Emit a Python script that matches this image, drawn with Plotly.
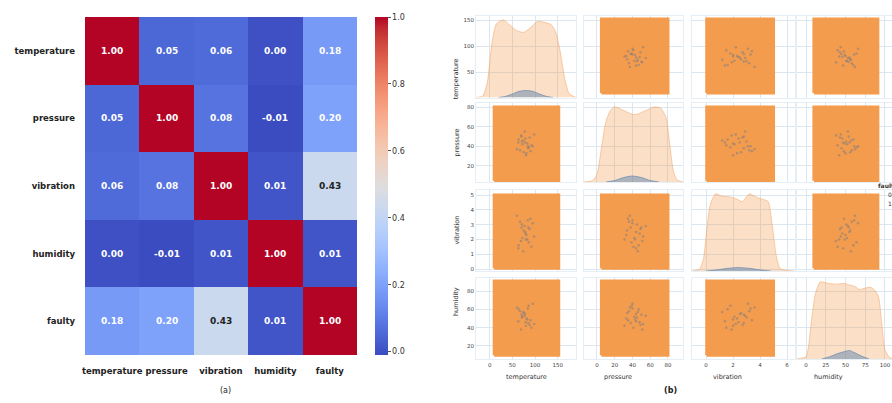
import plotly.graph_objects as go

W, H = 892, 403

# ---------------- data ----------------
features = ["temperature", "pressure", "vibration", "humidity", "faulty"]
corr = [
    [1.00, 0.05, 0.06, 0.00, 0.18],
    [0.05, 1.00, 0.08, -0.01, 0.20],
    [0.06, 0.08, 1.00, 0.01, 0.43],
    [0.00, -0.01, 0.01, 1.00, 0.01],
    [0.18, 0.20, 0.43, 0.01, 1.00],
]
cbar_ticks = [0.0, 0.2, 0.4, 0.6, 0.8, 1.0]

pair_vars = ["temperature", "pressure", "vibration", "humidity"]

# value range covered by the (dense) non-faulty samples, per variable
ok_min = [10, 5, 0.05, 10]
ok_max = [152, 80, 5.0, 91]

# faulty samples (read approx. from the cluster in the middle of each panel)
fault_temperature = [72, 85, 64, 90, 78, 69, 95, 81, 74, 88, 60, 83, 77, 92, 67, 79, 86, 71, 98, 75, 63, 84, 80, 70]
fault_pressure = [42, 38, 47, 35, 44, 51, 40, 33, 46, 49, 37, 43, 55, 41, 36, 48, 39, 45, 52, 34, 44, 40, 31, 50]
fault_vibration = [2.1, 2.8, 1.6, 3.4, 2.5, 1.9, 3.1, 2.3, 1.2, 2.7, 3.6, 2.0, 2.9, 1.5, 3.2, 2.4, 1.8, 3.0, 2.2, 2.6, 1.4, 3.3, 2.0, 2.8]
fault_humidity = [52, 45, 60, 48, 55, 38, 66, 50, 57, 43, 62, 49, 53, 40, 58, 46, 64, 51, 44, 56, 47, 61, 42, 54]
fault_samples = [fault_temperature, fault_pressure, fault_vibration, fault_humidity]

# KDE curves (relative density) for faulty = 0
kde_temperature_x = [-30, -15, -5, 5, 15, 30, 45, 60, 75, 90, 105, 120, 135, 145, 155, 165, 175, 190]
kde_temperature_ok = [0, 0.02, 0.2, 0.7, 0.95, 1.0, 0.93, 0.86, 0.84, 0.9, 0.98, 0.97, 0.94, 0.85, 0.6, 0.25, 0.05, 0]
kde_pressure_x = [-15, -5, 0, 5, 10, 15, 20, 30, 40, 45, 55, 65, 72, 78, 82, 86, 90, 97]
kde_pressure_ok = [0, 0.02, 0.1, 0.45, 0.8, 0.95, 1.0, 0.95, 0.9, 0.9, 0.95, 1.0, 0.98, 0.85, 0.5, 0.15, 0.03, 0]
kde_vibration_x = [-1, -0.5, -0.2, 0, 0.3, 0.7, 1.2, 1.8, 2.3, 2.7, 3.2, 3.7, 4.2, 4.6, 4.9, 5.2, 5.5, 6.5]
kde_vibration_ok = [0, 0.02, 0.15, 0.45, 0.85, 1.0, 0.97, 0.96, 0.93, 0.9, 1.0, 0.96, 0.93, 0.9, 0.6, 0.2, 0.03, 0]
kde_humidity_x = [-12, 0, 3, 7, 12, 18, 28, 38, 48, 55, 62, 68, 75, 82, 88, 92, 96, 100, 106, 112]
kde_humidity_ok = [0, 0.03, 0.15, 0.5, 0.85, 1.0, 0.98, 0.97, 0.98, 0.96, 0.94, 0.9, 0.92, 0.93, 0.88, 0.8, 0.45, 0.12, 0.02, 0]

# KDE curves (relative density) for faulty = 1
kde_temperature_fx = [20, 35, 50, 65, 80, 95, 110, 125, 140]
kde_temperature_f = [0.0, 0.015, 0.045, 0.08, 0.09, 0.08, 0.045, 0.015, 0.0]
kde_pressure_fx = [10, 20, 30, 40, 50, 60, 70]
kde_pressure_f = [0.0, 0.02, 0.06, 0.08, 0.06, 0.02, 0.0]
kde_vibration_fx = [0.0, 0.8, 1.6, 2.4, 3.2, 4.0, 4.8]
kde_vibration_f = [0.0, 0.015, 0.035, 0.045, 0.035, 0.015, 0.0]
kde_humidity_fx = [20, 30, 40, 50, 55, 60, 70, 80]
kde_humidity_f = [0.0, 0.03, 0.07, 0.1, 0.11, 0.09, 0.04, 0.0]

kde_x = [kde_temperature_x, kde_pressure_x, kde_vibration_x, kde_humidity_x]
kde_ok = [kde_temperature_ok, kde_pressure_ok, kde_vibration_ok, kde_humidity_ok]
kde_fx = [kde_temperature_fx, kde_pressure_fx, kde_vibration_fx, kde_humidity_fx]
kde_f = [kde_temperature_f, kde_pressure_f, kde_vibration_f, kde_humidity_f]

x_ticks = [[0, 50, 100, 150], [0, 20, 40, 60, 80], [0, 2, 4, 6], [0, 25, 50, 75, 100]]
y_ticks = [[50, 100, 150], [20, 40, 60, 80], [0, 1, 2, 3, 4, 5], [20, 40, 60, 80]]

# ---------------- layout helpers ----------------
def fx(px):
    return px / W

def fy(px):
    return 1 - px / H

lower = [
    "rgb(59,76,192)", "rgb(68,90,204)", "rgb(77,104,215)", "rgb(87,117,225)",
    "rgb(98,130,234)", "rgb(108,142,241)", "rgb(119,154,247)", "rgb(130,165,251)",
    "rgb(141,176,254)", "rgb(152,185,255)", "rgb(163,194,255)", "rgb(174,201,253)",
    "rgb(184,208,249)", "rgb(194,213,244)", "rgb(204,217,238)", "rgb(213,219,230)",
    "rgb(221,221,221)",
]
upper = [
    "rgb(221,221,221)", "rgb(229,216,209)", "rgb(236,211,197)", "rgb(241,204,184)",
    "rgb(245,196,173)", "rgb(247,187,160)", "rgb(247,177,148)", "rgb(247,166,135)",
    "rgb(244,154,123)", "rgb(241,141,111)", "rgb(236,127,99)", "rgb(229,112,88)",
    "rgb(222,96,77)", "rgb(213,80,66)", "rgb(203,62,56)", "rgb(192,40,47)", "rgb(180,4,38)",
]
cscale = [[k * 0.5 / 16, c] for k, c in enumerate(lower)] + \
         [[0.5 + k * 0.5 / 16, c] for k, c in enumerate(upper)][1:]

BOLD = dict(family="DejaVu Sans", weight="bold")

fig = go.Figure()

# ---------------- heatmap ----------------
hm_x0, hm_x1, hm_y0, hm_y1 = 85, 357, 17, 355
fig.add_trace(go.Heatmap(
    z=corr, x=features, y=features, zmin=-0.01, zmax=1.0, colorscale=cscale,
    hoverinfo="skip", xaxis="x", yaxis="y",
    colorbar=dict(
        x=fx(375), xanchor="left", xpad=0, y=fy((hm_y0 + hm_y1) / 2), yanchor="middle", ypad=0,
        len=(hm_y1 - hm_y0) / H, lenmode="fraction", thickness=13, outlinewidth=0,
        tickvals=cbar_ticks, ticktext=[f"{v:.1f}" for v in cbar_ticks],
        ticks="outside", ticklen=3, tickcolor="#555",
        tickfont=dict(size=8, color="#333", family="DejaVu Sans"),
    ),
))

annotations = []
for i, row in enumerate(corr):
    for j, v in enumerate(row):
        col = "#222222" if 0.3 < v < 0.7 else "white"
        annotations.append(dict(x=features[j], y=features[i], xref="x", yref="y", text=f"{v:.2f}",
                                showarrow=False, font=dict(size=9, color=col, **BOLD)))

lay = dict(
    width=W, height=H, margin=dict(l=0, r=0, t=0, b=0),
    paper_bgcolor="white", plot_bgcolor="white", showlegend=False,
    xaxis=dict(domain=[fx(hm_x0), fx(hm_x1)], anchor="y", showgrid=False, zeroline=False,
               tickfont=dict(size=8.5, color="#222", **BOLD), ticks="",
               ticklabelstandoff=9, automargin=False, tickangle=0),
    yaxis=dict(domain=[fy(hm_y1), fy(hm_y0)], anchor="x", showgrid=False, zeroline=False,
               autorange="reversed", tickfont=dict(size=8.5, color="#222", **BOLD), ticks="",
               ticklabelstandoff=9, automargin=False),
)

# ---------------- pair plot ----------------
col_px = [(476, 576), (584, 683), (692, 795), (797, 892)]
row_px = [(16, 97.5), (103, 182), (190, 271), (278, 359)]
x_ranges = [[-30, 190], [-14.6, 96.9], [-1.04, 6.59], [-11.4, 108.9]]
y_ranges = [[1.5, 157.7], [3.7, 84.1], [-0.135, 5.34], [5.8, 94.2]]

GRID = "#dbe6ef"
TICKF = dict(size=5.5, color="#444", family="DejaVu Sans")
ORANGE = "#f49c4e"

for i in range(4):
    for j in range(4):
        n = 2 + i * 4 + j
        xa, ya = f"x{n}", f"y{n}"
        lay[f"xaxis{n}"] = dict(domain=[fx(col_px[j][0]), fx(col_px[j][1])], anchor=ya,
                                range=x_ranges[j], tickvals=x_ticks[j], showgrid=True, gridcolor=GRID,
                                gridwidth=0.8, zeroline=False, showticklabels=(i == 3), ticks="",
                                tickfont=TICKF, automargin=False, showline=True, mirror=True,
                                linecolor="#e6eef5", linewidth=0.8)
        lay[f"yaxis{n}"] = dict(domain=[fy(row_px[i][1]), fy(row_px[i][0])], anchor=xa,
                                range=y_ranges[i], tickvals=y_ticks[i], showgrid=True, gridcolor=GRID,
                                gridwidth=0.8, zeroline=False, showticklabels=(j == 0), ticks="",
                                tickfont=TICKF, automargin=False, showline=True, mirror=True,
                                linecolor="#e6eef5", linewidth=0.8)
        if i == j:
            k = 18 + i
            # empty trace so the shared-scale axes of the diagonal panel are drawn
            fig.add_trace(go.Scatter(x=[], y=[], xaxis=xa, yaxis=ya, mode="markers", hoverinfo="skip"))
            lay[f"yaxis{k}"] = dict(domain=[fy(row_px[i][1]), fy(row_px[i][0])], anchor=xa,
                                    overlaying=ya, range=[0, 1.05], visible=False, showgrid=False)
            fig.add_trace(go.Scatter(x=kde_x[i], y=kde_ok[i], xaxis=xa, yaxis=f"y{k}", mode="lines",
                                     fill="tozeroy", fillcolor="rgba(247,155,80,0.32)",
                                     line=dict(color="rgba(242,150,75,0.55)", width=0.8,
                                               shape="spline", smoothing=0.6),
                                     hoverinfo="skip"))
            fig.add_trace(go.Scatter(x=kde_fx[i], y=kde_f[i], xaxis=xa, yaxis=f"y{k}", mode="lines",
                                     fill="tozeroy", fillcolor="rgba(80,125,170,0.45)",
                                     line=dict(color="rgba(80,125,170,0.7)", width=0.8,
                                               shape="spline", smoothing=0.6),
                                     hoverinfo="skip"))
        else:
            rx = [ok_min[j], ok_max[j], ok_max[j], ok_min[j], ok_min[j]]
            ry = [ok_min[i], ok_min[i], ok_max[i], ok_max[i], ok_min[i]]
            fig.add_trace(go.Scatter(x=rx, y=ry, xaxis=xa, yaxis=ya, mode="lines", fill="toself",
                                     fillcolor=ORANGE, line=dict(color=ORANGE, width=3),
                                     hoverinfo="skip"))
            fig.add_trace(go.Scatter(x=fault_samples[j], y=fault_samples[i], xaxis=xa, yaxis=ya,
                                     mode="markers",
                                     marker=dict(size=2.5, color="rgba(130,125,125,0.55)"),
                                     hoverinfo="skip"))

# axis titles of pair plot
for j in range(4):
    annotations.append(dict(x=fx((col_px[j][0] + col_px[j][1]) / 2), y=fy(371), xref="paper", yref="paper",
                            yanchor="top", text=pair_vars[j], showarrow=False,
                            font=dict(size=6.5, color="#333", family="DejaVu Sans")))
for i in range(4):
    annotations.append(dict(x=fx(456), y=fy((row_px[i][0] + row_px[i][1]) / 2), xref="paper", yref="paper",
                            text=pair_vars[i], textangle=-90, showarrow=False,
                            font=dict(size=6.5, color="#333", family="DejaVu Sans")))

# partly visible legend at the right edge
annotations.append(dict(x=fx(876), y=fy(186), xref="paper", yref="paper", xanchor="left", text="faulty",
                        showarrow=False, font=dict(size=6, color="#333", **BOLD)))
annotations.append(dict(x=fx(886), y=fy(194), xref="paper", yref="paper", xanchor="left", text="0",
                        showarrow=False, font=dict(size=6, color="#333", family="DejaVu Sans")))
annotations.append(dict(x=fx(886), y=fy(203), xref="paper", yref="paper", xanchor="left", text="1",
                        showarrow=False, font=dict(size=6, color="#333", family="DejaVu Sans")))

# panel captions
annotations.append(dict(x=fx(218), y=fy(397), xref="paper", yref="paper", text="(a)", showarrow=False,
                        font=dict(size=8, color="#222", family="DejaVu Sans")))
annotations.append(dict(x=fx(679), y=fy(397), xref="paper", yref="paper", text="(b)", showarrow=False,
                        font=dict(size=8, color="#222", **BOLD)))

lay["annotations"] = annotations
fig.update_layout(**lay)
fig.write_html("out.html", config={"displayModeBar": False},
               post_script="document.body.style.margin='0';document.body.style.overflow='hidden';")
